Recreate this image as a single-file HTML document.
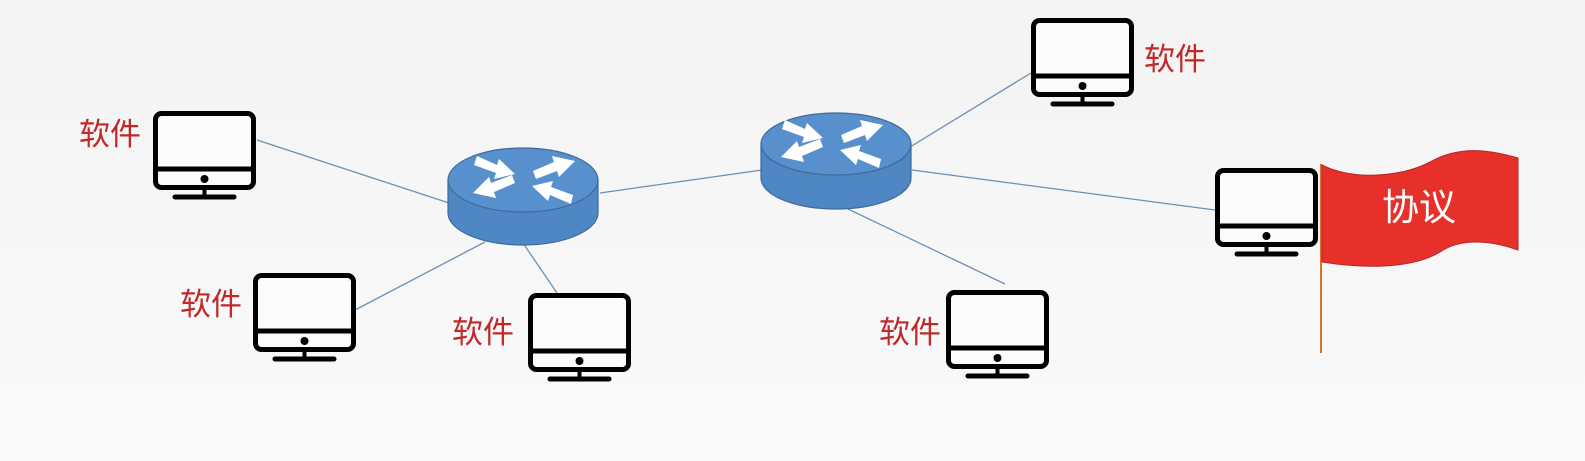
<!DOCTYPE html>
<html><head><meta charset="utf-8"><style>
body{margin:0;background:#f6f6f6;}
svg{display:block}
text{font-family:"Liberation Sans","Noto Sans CJK SC",sans-serif;}
</style></head><body>
<svg width="1585" height="461" viewBox="0 0 1585 461" xmlns="http://www.w3.org/2000/svg">
<defs>
<linearGradient id="bg" x1="0" y1="0" x2="0" y2="1"><stop offset="0" stop-color="#f3f3f3"/><stop offset="1" stop-color="#fafafa"/></linearGradient>
<g id="mon">
<rect x="2.5" y="2.5" width="98" height="74" rx="6" fill="#fbfbfb" stroke="#000" stroke-width="5"/>
<line x1="2.5" y1="58" x2="100.5" y2="58" stroke="#000" stroke-width="5"/>
<circle cx="51.5" cy="68" r="4" fill="#000"/>
<line x1="51.5" y1="78" x2="51.5" y2="85" stroke="#000" stroke-width="4"/>
<line x1="22" y1="86" x2="81" y2="86" stroke="#000" stroke-width="5" stroke-linecap="round"/>
</g>
<g id="arrows" fill="#fff">
<polygon points="-48,-24 -28,-15 -26,-21 -10,-6 -31,-1 -29,-7 -51,-15"/>
<polygon points="8,-9 29,-18 27,-24 50,-19 34,-3 32,-9 11,-1"/>
<polygon points="-10,3 -31,12 -29,18 -52,13 -36,-3 -34,3 -13,-5"/>
<polygon points="46,24 25,15 23,21 7,6 28,1 26,7 48,15"/>
</g>
</defs>
<rect width="1585" height="461" fill="url(#bg)"/>
<g stroke="#6d8fb5" stroke-width="1.3">
<line x1="257" y1="140" x2="449" y2="203"/>
<line x1="355" y1="310" x2="485" y2="242"/>
<line x1="557" y1="293" x2="523" y2="243"/>
<line x1="600" y1="193" x2="762" y2="170"/>
<line x1="910" y1="147" x2="1031" y2="73"/>
<line x1="912" y1="170" x2="1215" y2="210"/>
<line x1="848" y1="209" x2="1005" y2="284"/>
</g>
<g stroke="#3d6a9a" stroke-width="1.2">
<path d="M448 180 L448 213 A75 32 0 0 0 598 213 L598 180 Z" fill="#4f87c4"/>
<ellipse cx="523" cy="180" rx="75" ry="32" fill="#5790cc"/>
<path d="M761 144 L761 178 A75 31 0 0 0 911 178 L911 144 Z" fill="#4f87c4"/>
<ellipse cx="836" cy="144" rx="75" ry="31" fill="#5790cc"/>
</g>
<use href="#arrows" transform="translate(525,180)"/>
<use href="#arrows" transform="translate(833,144)"/>
<use href="#mon" transform="translate(153,111)"/>
<use href="#mon" transform="translate(253,273)"/>
<use href="#mon" transform="translate(528,293)"/>
<use href="#mon" transform="translate(1031,18)"/>
<use href="#mon" transform="translate(1215,168)"/>
<use href="#mon" transform="translate(946,290)"/>
<g fill="#c0282a" font-size="31">
<text x="79" y="145">软件</text>
<text x="180" y="315">软件</text>
<text x="452" y="343">软件</text>
<text x="1144" y="70">软件</text>
<text x="879" y="343">软件</text>
</g>
<line x1="1321" y1="164" x2="1321" y2="353" stroke="#d9722c" stroke-width="2"/>
<path d="M1322 165 C1350 180 1400 178 1430 162 C1460 145 1490 150 1518 158 L1518 250 C1490 240 1460 238 1440 252 C1410 270 1360 268 1322 262 Z" fill="#e8302a" stroke="#b8262a" stroke-width="1"/>
<text x="1382" y="220" fill="#fff" font-size="37">协议</text>
</svg>
</body></html>
